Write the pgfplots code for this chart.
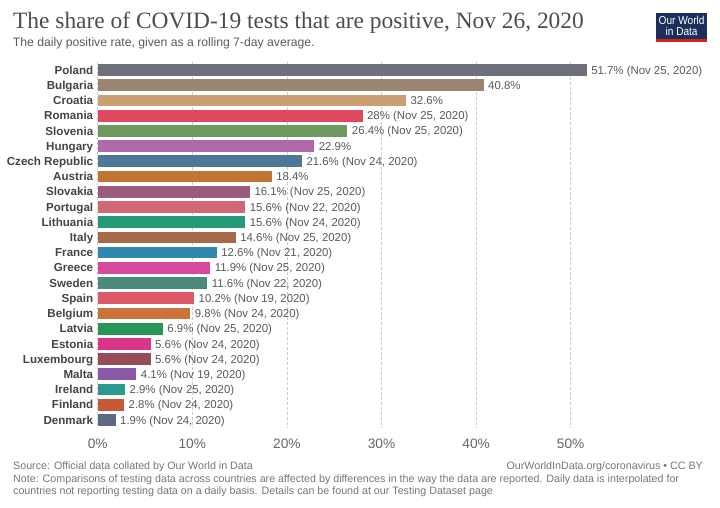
\documentclass[border=0pt]{standalone}
\usepackage{pgfplots}
\pgfplotsset{compat=1.18}
\usepackage{fontspec}
\setmainfont{Liberation Sans}
\newfontfamily\titlefont{Liberation Serif}
\newfontfamily\logofont{Liberation Sans}[FakeStretch=0.88]
\definecolor{titlegray}{HTML}{4D4D4D}
\definecolor{subgray}{HTML}{5B5B5B}
\definecolor{labgray}{HTML}{444444}
\definecolor{valgray}{HTML}{595959}
\definecolor{tickgray}{HTML}{666666}
\definecolor{footgray}{HTML}{777777}
\definecolor{gridgray}{HTML}{CCCCCC}
\definecolor{owidblue}{HTML}{1B2F5B}
\definecolor{owidred}{HTML}{CE261E}
\definecolor{cPoland}{HTML}{6E717C}
\definecolor{cBulgaria}{HTML}{9A8572}
\definecolor{cCroatia}{HTML}{C9A072}
\definecolor{cRomania}{HTML}{E0485E}
\definecolor{cSlovenia}{HTML}{6E9960}
\definecolor{cHungary}{HTML}{B06AAA}
\definecolor{cCzech}{HTML}{4D7898}
\definecolor{cAustria}{HTML}{C27433}
\definecolor{cSlovakia}{HTML}{9B5B7C}
\definecolor{cPortugal}{HTML}{D06878}
\definecolor{cLithuania}{HTML}{259A76}
\definecolor{cItaly}{HTML}{A66A4A}
\definecolor{cFrance}{HTML}{2F89AE}
\definecolor{cGreece}{HTML}{D64A9C}
\definecolor{cSweden}{HTML}{4A8A7C}
\definecolor{cSpain}{HTML}{DC5A68}
\definecolor{cBelgium}{HTML}{CD7238}
\definecolor{cLatvia}{HTML}{289659}
\definecolor{cEstonia}{HTML}{D9368A}
\definecolor{cLuxembourg}{HTML}{964C56}
\definecolor{cMalta}{HTML}{8A5AA8}
\definecolor{cIreland}{HTML}{2A9A8F}
\definecolor{cFinland}{HTML}{C65A34}
\definecolor{cDenmark}{HTML}{5A6A82}
\newcommand{\cbar}[4]{\addplot[xbar, bar shift=0pt, bar width=11.7bp, fill=#1, draw=none,
  nodes near coords={#4}, nodes near coords align=horizontal,
  every node near coord/.append style={anchor=base west, inner sep=0pt, xshift=4.3bp, yshift=-4.1bp, text=valgray, font=\fontsize{11.4bp}{13bp}\selectfont}]
  coordinates {(#2,#3)};}
\begin{document}
\begin{tikzpicture}
\path[use as bounding box] (0,0) rectangle (720bp,508bp);
\fill[white] (0,0) rectangle (720bp,508bp);
\begin{axis}[at={(97.7bp,80.4bp)}, anchor=south west, scale only axis,
  width=520.3bp, height=365.2bp, xmin=0, xmax=55, ymin=-0.5, ymax=23.5, y dir=reverse,
  axis line style={draw=none}, major tick length=0pt, clip=false,
  xtick={0,10,20,30,40,50}, xticklabels={0\%,10\%,20\%,30\%,40\%,50\%},
  ytick={0,...,23},
  yticklabels={Poland,Bulgaria,Croatia,Romania,Slovenia,Hungary,Czech Republic,Austria,Slovakia,Portugal,Lithuania,Italy,France,Greece,Sweden,Spain,Belgium,Latvia,Estonia,Luxembourg,Malta,Ireland,Finland,Denmark},
  xmajorgrids, grid style={gridgray, line width=0.8bp, dash pattern=on 2.5bp off 2.5bp},
  xticklabel style={font=\fontsize{13.7bp}{16bp}\selectfont, text=tickgray, inner sep=0pt, anchor=north, yshift=-11bp},
  yticklabel style={font=\bfseries\fontsize{11.6bp}{14bp}\selectfont, text=labgray, inner sep=0pt, anchor=base east, xshift=-4.3bp, yshift=-4.15bp},
]
\cbar{cPoland}{51.7}{0}{51.7\% (Nov 25, 2020)}
\cbar{cBulgaria}{40.8}{1}{40.8\%}
\cbar{cCroatia}{32.6}{2}{32.6\%}
\cbar{cRomania}{28}{3}{28\% (Nov 25, 2020)}
\cbar{cSlovenia}{26.4}{4}{26.4\% (Nov 25, 2020)}
\cbar{cHungary}{22.9}{5}{22.9\%}
\cbar{cCzech}{21.6}{6}{21.6\% (Nov 24, 2020)}
\cbar{cAustria}{18.4}{7}{18.4\%}
\cbar{cSlovakia}{16.1}{8}{16.1\% (Nov 25, 2020)}
\cbar{cPortugal}{15.6}{9}{15.6\% (Nov 22, 2020)}
\cbar{cLithuania}{15.6}{10}{15.6\% (Nov 24, 2020)}
\cbar{cItaly}{14.6}{11}{14.6\% (Nov 25, 2020)}
\cbar{cFrance}{12.6}{12}{12.6\% (Nov 21, 2020)}
\cbar{cGreece}{11.9}{13}{11.9\% (Nov 25, 2020)}
\cbar{cSweden}{11.6}{14}{11.6\% (Nov 22, 2020)}
\cbar{cSpain}{10.2}{15}{10.2\% (Nov 19, 2020)}
\cbar{cBelgium}{9.8}{16}{9.8\% (Nov 24, 2020)}
\cbar{cLatvia}{6.9}{17}{6.9\% (Nov 25, 2020)}
\cbar{cEstonia}{5.6}{18}{5.6\% (Nov 24, 2020)}
\cbar{cLuxembourg}{5.6}{19}{5.6\% (Nov 24, 2020)}
\cbar{cMalta}{4.1}{20}{4.1\% (Nov 19, 2020)}
\cbar{cIreland}{2.9}{21}{2.9\% (Nov 25, 2020)}
\cbar{cFinland}{2.8}{22}{2.8\% (Nov 24, 2020)}
\cbar{cDenmark}{1.9}{23}{1.9\% (Nov 24, 2020)}
\end{axis}
% title and subtitle
\node[anchor=base west, inner sep=0pt, text=titlegray] at (13bp,479.7bp)
  {\titlefont\fontsize{23.4bp}{27bp}\selectfont The share of COVID-19 tests that are positive, Nov 26, 2020};
\node[anchor=base west, inner sep=0pt, text=subgray] at (12.7bp,461.5bp)
  {\fontsize{12.2bp}{14bp}\selectfont The daily positive rate, given as a rolling 7-day average.};
% logo
\fill[owidblue] (656bp,466bp) rectangle (707.3bp,495.3bp);
\fill[owidred] (656bp,466bp) rectangle (707.3bp,469bp);
\node[anchor=base, inner sep=0pt, text=white] at (681.6bp,483bp) {\logofont\fontsize{11.5bp}{12bp}\selectfont Our World};
\node[anchor=base, inner sep=0pt, text=white] at (681.6bp,472.3bp) {\logofont\fontsize{11.5bp}{12bp}\selectfont in Data};
% footer
\node[anchor=base west, inner sep=0pt, text=footgray] at (13bp,38.5bp)
  {\fontsize{10.7bp}{12bp}\selectfont Source: Official data collated by Our World in Data};
\node[anchor=base east, inner sep=0pt, text=footgray] at (703bp,38.5bp)
  {\fontsize{10.7bp}{12bp}\selectfont OurWorldInData.org/coronavirus \textbullet{} CC BY};
\node[anchor=base west, inner sep=0pt, text=footgray] at (13bp,26bp)
  {\fontsize{10.7bp}{12bp}\selectfont Note: Comparisons of testing data across countries are affected by differences in the way the data are reported. Daily data is interpolated for};
\node[anchor=base west, inner sep=0pt, text=footgray] at (13bp,14bp)
  {\fontsize{10.7bp}{12bp}\selectfont countries not reporting testing data on a daily basis. Details can be found at our Testing Dataset page};
\end{tikzpicture}
\end{document}
